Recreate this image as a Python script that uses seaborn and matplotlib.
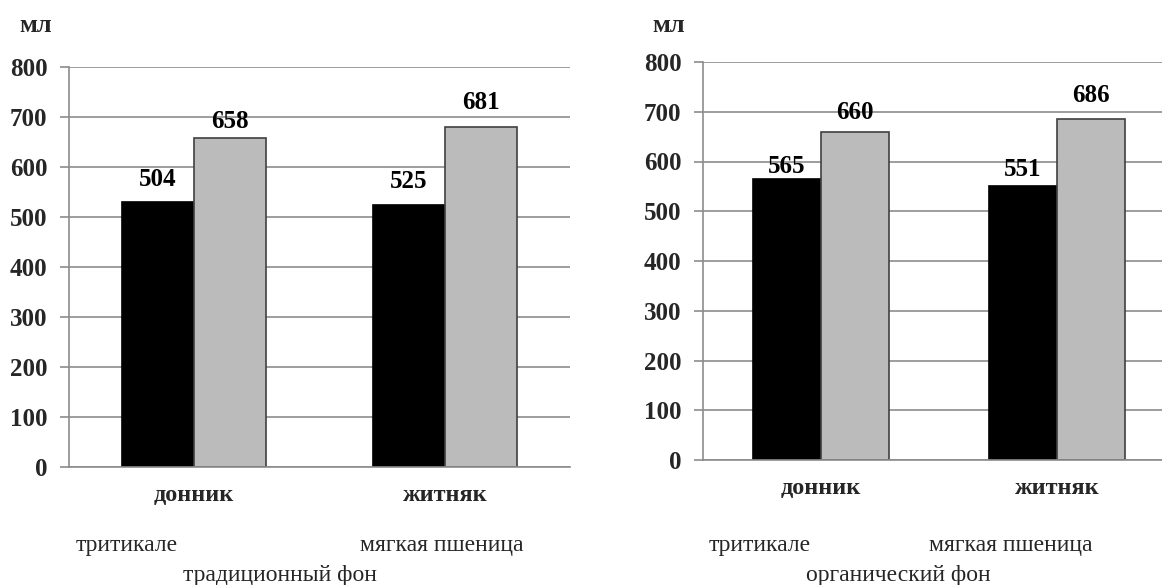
import matplotlib
matplotlib.use("Agg")
import matplotlib.pyplot as plt
import seaborn as sns
import pandas as pd

sns.set_style("white")
plt.rcParams['font.family'] = ['Liberation Serif', 'DejaVu Serif']

categories = ["донник", "житняк"]
series_names = ["тритикале", "мягкая пшеница"]

trad_triticale = [530, 524]
trad_wheat = [658, 681]
trad_labels = ["504", "658", "525", "681"]   # order: донник-трит, донник-пш, житняк-трит, житняк-пш

org_triticale = [565, 551]
org_wheat = [660, 686]
org_labels = ["565", "660", "551", "686"]

y_ticks = [0, 100, 200, 300, 400, 500, 600, 700, 800]
unit = "мл"
panel_titles = ["традиционный фон", "органический фон"]

colors = ["#000000", "#BBBBBB"]
edges = ["#000000", "#404040"]
grid_col = "#8C8C8C"

W, H = 1162, 585
fig = plt.figure(figsize=(W / 100, H / 100), dpi=100)


def make_df(a, b):
    rows = []
    for c, v in zip(categories, a):
        rows.append({"cat": c, "ser": series_names[0], "val": v})
    for c, v in zip(categories, b):
        rows.append({"cat": c, "ser": series_names[1], "val": v})
    return pd.DataFrame(rows)


def draw(rect, a, b, labels, label_offsets):
    ax = fig.add_axes(rect)
    df = make_df(a, b)
    sns.barplot(data=df, x="cat", y="val", hue="ser", order=categories,
                hue_order=series_names, palette=colors, width=0.576,
                saturation=1, legend=False, ax=ax, linewidth=1.2)
    for ci, cont in enumerate(ax.containers):
        for p in cont:
            p.set_edgecolor(edges[ci])
    for c_i in range(len(categories)):
        for s_i, cont in enumerate(ax.containers):
            p = cont[c_i]
            x = p.get_x() + p.get_width() / 2
            h = p.get_height()
            idx = c_i * 2 + s_i
            ax.annotate(labels[idx], (x, h), xytext=(0, label_offsets[idx]),
                        textcoords="offset pixels", ha="center", va="center",
                        fontsize=18, fontweight="bold", color="#000000")
    ax.set_xlim(-0.5, 1.5)
    ax.set_ylim(0, 800)
    ax.set_yticks(y_ticks)
    ax.set_yticklabels([str(t) for t in y_ticks], fontsize=18, fontweight="bold")
    ax.set_xticks(range(len(categories)))
    ax.set_xticklabels(categories, fontsize=17.5, fontweight="bold")
    ax.set_xticks([-0.5, 0.5, 1.5], minor=True)
    ax.tick_params(axis="x", which="major", length=0, pad=13)
    ax.tick_params(axis="x", which="minor", length=6, width=1.2, color=grid_col, direction="out")
    ax.tick_params(axis="y", which="major", length=6.5, width=1.2, color=grid_col,
                   direction="out", pad=9, left=True)
    ax.set_xlabel("")
    ax.set_ylabel("")
    ax.grid(axis="y", color=grid_col, linewidth=1.2)
    ax.set_axisbelow(True)
    for s in ["top", "right"]:
        ax.spines[s].set_visible(False)
    for s in ["left", "bottom"]:
        ax.spines[s].set_color(grid_col)
        ax.spines[s].set_linewidth(1.2)
    return ax


ax1 = draw([69 / W, (H - 467) / H, 501 / W, 400 / H], trad_triticale, trad_wheat,
           trad_labels, [22, 17, 23, 24])
ax2 = draw([703 / W, (H - 460) / H, 472 / W, 398 / H], org_triticale, org_wheat,
           org_labels, [12, 19, 16, 23])

# unit labels
fig.text(36 / W, 1 - 26 / H, unit, ha="center", va="center", fontsize=19, fontweight="bold")
fig.text(669 / W, 1 - 26 / H, unit, ha="center", va="center", fontsize=19, fontweight="bold")

# series names and panel titles
fs = 17
fig.text(127 / W, 1 - 545 / H, series_names[0], ha="center", va="center", fontsize=fs)
fig.text(442 / W, 1 - 545 / H, series_names[1], ha="center", va="center", fontsize=fs)
fig.text(280 / W, 1 - 576 / H, panel_titles[0], ha="center", va="center", fontsize=fs)
fig.text(760 / W, 1 - 545 / H, series_names[0], ha="center", va="center", fontsize=fs)
fig.text(1011 / W, 1 - 545 / H, series_names[1], ha="center", va="center", fontsize=fs)
fig.text(898 / W, 1 - 576 / H, panel_titles[1], ha="center", va="center", fontsize=fs)

fig.savefig("out.png", dpi=100)
